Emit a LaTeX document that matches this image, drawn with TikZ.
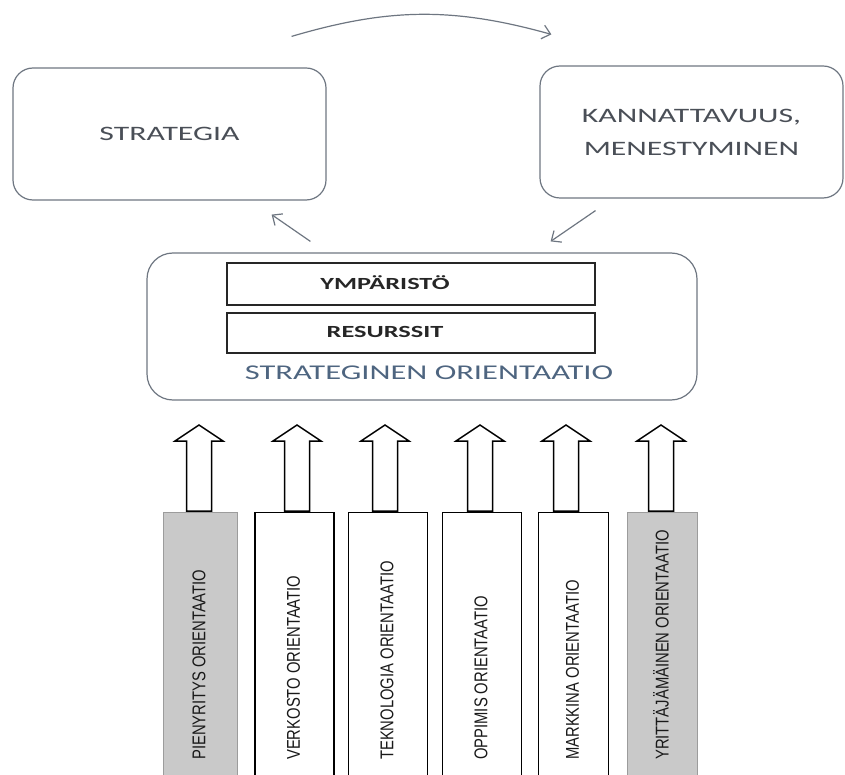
\documentclass[tikz,border=0pt]{standalone}
\usepackage{fontspec}
\setmainfont{Carlito}
\newfontfamily\widefont[FakeStretch=1.55]{Carlito}
\newfontfamily\narrowfont[FakeStretch=0.8]{Liberation Sans}
\usetikzlibrary{arrows.meta}
\definecolor{framegray}{HTML}{6E7681}
\definecolor{textgray}{HTML}{4A4F57}
\definecolor{orientblue}{HTML}{4E6580}
\definecolor{colgray}{HTML}{C9C9C9}
\definecolor{colframe}{HTML}{9C9C9C}
\tikzstyle{roundbox}=[draw=framegray, line width=1.2pt, rounded corners=20pt, inner sep=0pt]
\tikzstyle{bigtext}=[font=\widefont\fontsize{20.5}{33}\selectfont, text=textgray, align=center]
\tikzstyle{innerbox}=[draw=black!85, line width=1.3pt, inner sep=0pt, minimum width=368pt]
\tikzstyle{innertext}=[font=\widefont\bfseries\fontsize{17}{20}\selectfont, text=black!85, inner sep=0pt]
\tikzstyle{cycarrow}=[draw=framegray, line width=1.2pt, -{Straight Barb[length=8pt,width=14pt]}]
\tikzstyle{blockarrow}=[draw=black, line width=1.5pt, fill=white, line join=miter]
\tikzstyle{coltext}=[font=\narrowfont\fontsize{18.5}{20}\selectfont, text=black!90, inner sep=0pt, rotate=90, anchor=west]

\begin{document}
\begin{tikzpicture}[x=1pt, y=-1pt]
    \useasboundingbox (0,0) rectangle (845,775);
    \clip (0,0) rectangle (845,775);

    \node[roundbox, bigtext, minimum width=313pt, minimum height=132pt] (strat) at (169.5,134) {STRATEGIA};
    \node[roundbox, bigtext, minimum width=303pt, minimum height=132pt] (kann) at (691.5,132) {KANNATTAVUUS,\\MENESTYMINEN};
    \node[roundbox, rounded corners=26pt, minimum width=550pt, minimum height=147pt] (orient) at (422,326.5) {};

    \node[innerbox, minimum height=42pt] (ymp) at (411,284) {};
    \node[innerbox, minimum height=40pt] (res) at (411,333) {};
    \node[innertext] (ymptxt) at (385,283) {YMPÄRISTÖ};
    \node[innertext] (restxt) at (385,332) {RESURSSIT};
    \node[font=\widefont\fontsize{21}{24}\selectfont, text=orientblue, inner sep=0pt] (orienttxt) at (429,373) {STRATEGINEN ORIENTAATIO};

    % kierto
    \draw[cycarrow] ([shift={(-35,-31)}]strat.north east) to[bend left=16] ([shift={(12,-31)}]kann.north west);
    \draw[cycarrow] ([shift={(-96,12)}]kann.south) -- ([shift={(-147,-11)}]orient.north east);
    \draw[cycarrow] ([shift={(164,-11)}]orient.north west) -- ([shift={(-55,14)}]strat.south east);

      \foreach \cx/\w/\ax/\g/\txt [count = \i] in {
          200/74/199/1/PIENYRITYS ORIENTAATIO,
          294.5/79/297/0/VERKOSTO ORIENTAATIO,
          388/79/385/0/TEKNOLOGIA ORIENTAATIO,
          482/79/480/0/OPPIMIS ORIENTAATIO,
          573.5/70/566/0/MARKKINA ORIENTAATIO,
          662/70/661/1/YRITTÄJÄMÄINEN ORIENTAATIO}{
        \ifnum\g=1
          \node[draw=colframe, fill=colgray, line width=1pt, inner sep=0pt, minimum width=\w pt, minimum height=280pt, anchor=north] (col\i) at (\cx,512) {};
        \else
          \node[draw=black, line width=1.3pt, inner sep=0pt, minimum width=\w pt, minimum height=280pt, anchor=north] (col\i) at (\cx,512) {};
        \fi
        \draw[blockarrow] (\ax-12.5,511) -- (\ax-12.5,441) -- (\ax-24,441) -- (\ax,425)
          -- (\ax+24,441) -- (\ax+12.5,441) -- (\ax+12.5,511) -- cycle;
        \node[coltext] (coltxt\i) at (\cx-1,760) {\txt};
        }

\end{tikzpicture}
\end{document}
